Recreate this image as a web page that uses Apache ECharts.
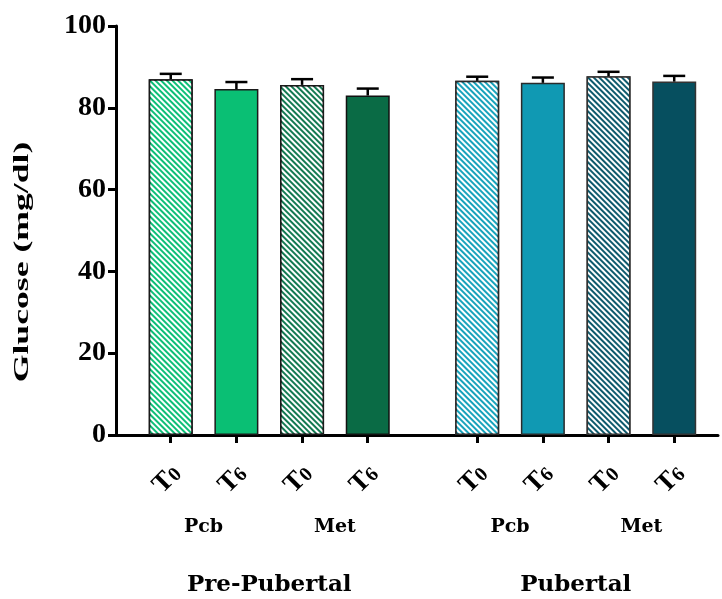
<!DOCTYPE html>
<html>
<head>
<meta charset="utf-8">
<script src="https://cdn.jsdelivr.net/npm/echarts@6/dist/echarts.min.js"></script>
<style>
  html, body { margin: 0; padding: 0; background: #fff; }
  #chart { width: 722px; height: 599px; }
</style>
</head>
<body>
<div id="chart"></div>
<script>
// Fasting glucose by puberty stage, treatment and time point
const groups = ['Pre-Pubertal', 'Pubertal'];
const treatments = ['Pcb', 'Met'];
const times = ['T0', 'T6'];

// mean and SEM, ordered group > treatment > time
const glucoseMean = [87.0, 84.6, 85.6, 83.0, 86.6, 86.1, 87.7, 86.4];
const glucoseSem = [1.3, 1.7, 1.4, 1.7, 1.0, 1.3, 1.1, 1.4];

const barColors = ['#0dbf78', '#0abf74', '#137a52', '#0a6b45', '#18a3bc', '#1099b3', '#0e5a6d', '#064f5f'];
const hatched = [true, false, true, false, true, false, true, false];
const borderColors = ['#1a1a1a', '#1a1a1a', '#1a1a1a', '#111', '#2a2a2a', '#2a2a2a', '#333', '#333'];

// slot layout on the category axis
const LEAD = 5, STEP = 6, GAP = 10, TRAIL = 4;

const barIndex = [];
const pairMid = [];
const groupMid = [];
let pos = LEAD;
groups.forEach((g, gi) => {
  const groupBars = [];
  treatments.forEach((t, ti) => {
    const pairBars = [];
    times.forEach(() => {
      barIndex.push(pos);
      pairBars.push(pos);
      groupBars.push(pos);
      pos += STEP;
    });
    pairMid.push((pairBars[0] + pairBars[pairBars.length - 1]) / 2);
  });
  groupMid.push((groupBars[0] + groupBars[groupBars.length - 1]) / 2);
  pos += GAP - STEP;
});
const nSlots = barIndex[barIndex.length - 1] + TRAIL + 1;

const slots = new Array(nSlots).fill('');
const treatSlots = new Array(nSlots).fill('');
const groupSlots = new Array(nSlots).fill('');
barIndex.forEach((idx, i) => { slots[idx] = times[i % times.length]; });
pairMid.forEach((idx, i) => { treatSlots[idx] = treatments[i % treatments.length]; });
groupMid.forEach((idx, i) => { groupSlots[idx] = groups[i]; });

const barData = new Array(nSlots).fill('-');
barIndex.forEach((idx, i) => {
  const style = {
    color: barColors[i],
    borderColor: borderColors[i],
    borderWidth: 1.5
  };
  if (hatched[i]) {
    style.decal = {
      symbol: 'rect',
      symbolSize: 1,
      color: 'rgba(255,255,255,1)',
      dashArrayX: [1, 0],
      dashArrayY: [1.5, 1.6],
      rotation: Math.PI / 4
    };
  }
  barData[idx] = { value: glucoseMean[i], itemStyle: style };
});

const errData = barIndex.map((idx, i) => [idx, glucoseMean[i], glucoseSem[i]]);

const serif = '"Liberation Serif", "Times New Roman", serif';
const slab = '"DejaVu Serif", serif';
const onlyFilled = (i, v) => v !== '';

const chart = echarts.init(document.getElementById('chart'), null, { renderer: 'canvas' });
chart.setOption({
  animation: false,
  backgroundColor: '#fff',
  grid: { left: 116, right: 4, top: 26, bottom: 164, containLabel: false },
  xAxis: [
    {
      type: 'category',
      data: slots,
      boundaryGap: false,
      axisLine: { lineStyle: { color: '#000', width: 3 } },
      axisTick: { show: true, interval: onlyFilled, length: 8, lineStyle: { color: '#000', width: 3 } },
      axisLabel: {
        interval: onlyFilled,
        rotate: 45,
        align: 'center',
        verticalAlign: 'middle',
        margin: 41,
        padding: [0, 10, 0, 0],
        formatter: v => '{t|' + v.charAt(0) + '}{d|' + v.slice(1) + '}',
        rich: {
          t: { fontFamily: serif, fontWeight: 'bold', fontSize: 27, color: '#000' },
          d: { fontFamily: serif, fontWeight: 'bold', fontSize: 20, color: '#000', padding: [5, 0, 0, 0] }
        }
      },
      splitLine: { show: false }
    },
    {
      type: 'category',
      data: treatSlots,
      boundaryGap: false,
      position: 'bottom',
      axisLine: { show: false },
      axisTick: { show: false },
      axisLabel: {
        interval: onlyFilled,
        margin: 83,
        fontFamily: slab,
        fontWeight: 'bold',
        fontSize: 19,
        color: '#000'
      }
    },
    {
      type: 'category',
      data: groupSlots,
      boundaryGap: false,
      position: 'bottom',
      axisLine: { show: false },
      axisTick: { show: false },
      axisLabel: {
        interval: onlyFilled,
        margin: 139,
        fontFamily: slab,
        fontWeight: 'bold',
        fontSize: 23,
        color: '#000'
      }
    }
  ],
  yAxis: {
    type: 'value',
    min: 0,
    max: 100,
    interval: 20,
    axisLine: { show: true, lineStyle: { color: '#000', width: 3 } },
    axisTick: { show: true, length: 8, lineStyle: { color: '#000', width: 3 } },
    axisLabel: { margin: 10, fontFamily: serif, fontWeight: 'bold', fontSize: 28, color: '#000' },
    splitLine: { show: false }
  },
  graphic: [
    {
      type: 'text',
      x: 22,
      y: 262,
      rotation: Math.PI / 2,
      scaleX: 1.62,
      style: {
        text: 'Glucose (mg/dl)',
        fontFamily: serif,
        fontWeight: 'bold',
        fontSize: 22,
        fill: '#000',
        align: 'center',
        verticalAlign: 'middle'
      }
    }
  ],
  series: [
    {
      type: 'bar',
      data: barData,
      barWidth: 44,
      xAxisIndex: 0
    },
    {
      type: 'custom',
      xAxisIndex: 0,
      data: errData,
      encode: { x: 0, y: 1 },
      z: 3,
      renderItem: (params, api) => {
        const x = api.value(0);
        const m = api.value(1);
        const s = api.value(2);
        const base = api.coord([x, m]);
        const top = api.coord([x, m + s]);
        const half = 11;
        const ls = { stroke: '#000', lineWidth: 2.5 };
        return {
          type: 'group',
          children: [
            { type: 'line', shape: { x1: base[0], y1: base[1], x2: top[0], y2: top[1] }, style: ls },
            { type: 'line', shape: { x1: top[0] - half, y1: top[1], x2: top[0] + half, y2: top[1] }, style: ls }
          ]
        };
      }
    }
  ]
});
</script>
</body>
</html>
